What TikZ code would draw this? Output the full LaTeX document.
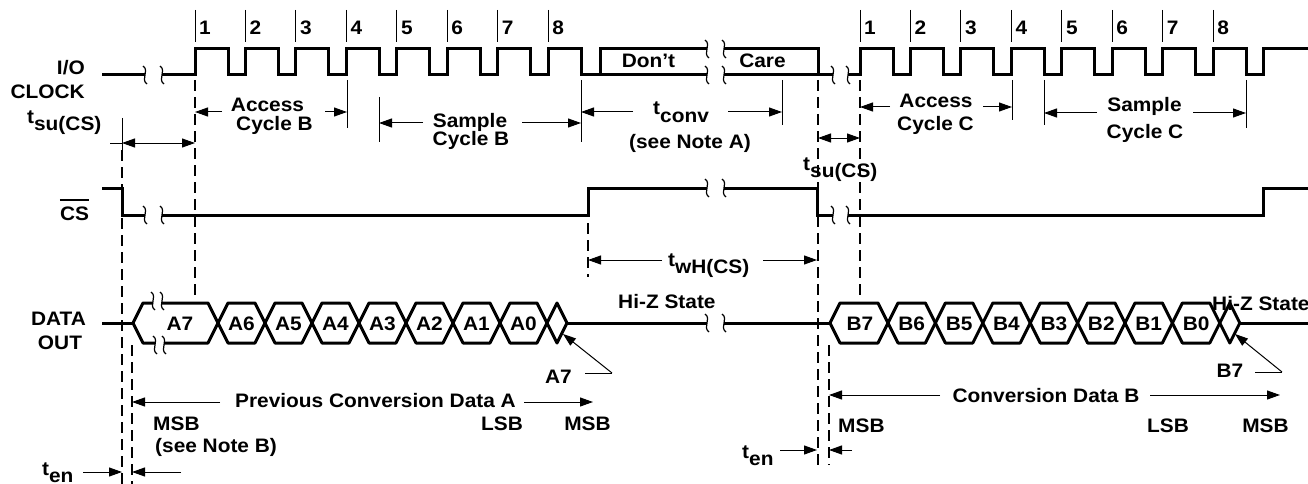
\documentclass[tikz,border=0pt]{standalone}
\usepackage{fontspec}
\setmainfont{Liberation Sans}[FakeStretch=1.07]
\usetikzlibrary{arrows.meta}
\newcommand\tsub[2]{#1\raisebox{-7pt}{#2}}
\newcommand\brkmark[2]{\draw[brkline] ({#1-2},{#2-9}) .. controls ({#1+5},{#2-4}) and ({#1-5},{#2+4}) .. ({#1+2},{#2+9});}
\tikzset{
  sig/.style={line width=3pt},
  dat/.style={line width=3pt, line join=round},
  brkline/.style={line width=1.2pt},
  dimline/.style={line width=1pt},
  dashv/.style={line width=1.1pt, dash pattern=on 11pt off 6pt},
  arr/.style={line width=1pt, -{Triangle[length=13pt,width=9pt]}},
  darr/.style={line width=1pt, {Triangle[length=13pt,width=9pt]}-{Triangle[length=13pt,width=9pt]}},
  lbl/.style={font=\fontsize{19.5}{21}\selectfont\bfseries, inner sep=0pt, anchor=base},
}
\begin{document}
\begin{tikzpicture}[x=1pt,y=-1pt]
\useasboundingbox (0,0) rectangle (1308,484);

% ---------- left labels
\node[lbl, anchor=base east] (io) at (85,75) {I/O};
\node[lbl, anchor=base east] (clk) at (85,99) {CLOCK};
\node[lbl] (cs) at (74.5,220) {CS};
\draw[line width=1.6pt] ([yshift=6pt]cs.north west) -- ([yshift=6pt]cs.north east);
\node[lbl] (data) at (58.5,325) {DATA};
\node[lbl] (out) at (60,349) {OUT};

% ---------- I/O clock
\draw[sig] (102,75) -- (145,75);
\draw[sig] (162,75) foreach \k in {0,...,7}{ -- ({195+50.45*\k},75) -- ({195+50.45*\k},49) -- ({228+50.45*\k},49) -- ({228+50.45*\k},75)} -- (600,75) -- (600,49) -- (707,49);
\draw[sig] (600,75) -- (707,75);
\draw[sig] (724,49) -- (818,49) -- (818,75);
\draw[sig] (724,75) -- (833,75);
\draw[sig] (848,75) foreach \k in {0,...,7}{ -- ({860+50.45*\k},75) -- ({860+50.45*\k},49) -- ({893+50.45*\k},49) -- ({893+50.45*\k},75)} -- (1263,75) -- (1263,49) -- (1308,49);
\brkmark{145}{75}\brkmark{162}{75}
\brkmark{707}{49}\brkmark{724}{49}
\brkmark{707}{75}\brkmark{724}{75}
\brkmark{833}{75}\brkmark{848}{75}
\node[lbl] (dont) at (648.5,68) {Don’t};
\node[lbl] (care) at (762.5,68) {Care};

\foreach \k [count=\n] in {0,...,7}{
  \draw[dimline] ({195+50.45*\k},10) -- ({195+50.45*\k},42);
  \node[lbl, anchor=base west] (nb\n) at ({199+50.45*\k},35) {\n};
  \draw[dimline] ({860+50.45*\k},10) -- ({860+50.45*\k},42);
  \node[lbl, anchor=base west] (nc\n) at ({864+50.45*\k},35) {\n};
}

% ---------- CS
\draw[sig] (102,188) -- (122,188) -- (122,215) -- (145,215);
\draw[sig] (162,215) -- (588,215) -- (588,188) -- (707,188);
\draw[sig] (724,188) -- (817,188) -- (817,215) -- (833,215);
\draw[sig] (848,215) -- (1263,215) -- (1263,188) -- (1308,188);
\brkmark{145}{215}\brkmark{162}{215}
\brkmark{707}{188}\brkmark{724}{188}
\brkmark{833}{215}\brkmark{848}{215}

% ---------- DATA OUT
\draw[dat] (102,323) -- (133,323);
\draw[dat] (153,303) -- (143,303) -- (133,323) -- (143,343) -- (155,343);
\draw[dat] (162,303) -- (208,303) -- (218,323) -- (208,343) -- (164,343);
\brkmark{153}{301}\brkmark{162}{301}
\brkmark{155}{345}\brkmark{164}{345}
\node[lbl] (a7) at (180,330) {A7};
\foreach \k/\t in {0/A6,1/A5,2/A4,3/A3,4/A2,5/A1,6/A0}{
  \draw[dat] ({218+47*\k},323) -- ({228+47*\k},303) -- ({255+47*\k},303) -- ({265+47*\k},323) -- ({255+47*\k},343) -- ({228+47*\k},343) -- cycle;
  \node[lbl] (cell\t) at ({241.5+47*\k},330) {\t};
}
\draw[dat] (547,323) -- (557,303) -- (567,323) -- (557,343) -- cycle;
\draw[dat] (567,323) -- (707,323);
\draw[dat] (724,323) -- (830,323);
\brkmark{707}{323}\brkmark{724}{323}
\draw[dat] (830,323) -- (840,303) -- (878,303) -- (888,323) -- (878,343) -- (840,343) -- cycle;
\node[lbl] (b7) at (860,330) {B7};
\foreach \k/\t in {0/B6,1/B5,2/B4,3/B3,4/B2,5/B1,6/B0}{
  \draw[dat] ({888+47.4*\k},323) -- ({898+47.4*\k},303) -- ({925.4+47.4*\k},303) -- ({935.4+47.4*\k},323) -- ({925.4+47.4*\k},343) -- ({898+47.4*\k},343) -- cycle;
  \node[lbl] (cell\t) at ({911.7+47.4*\k},330) {\t};
}
\draw[dat] (1219.8,323) -- (1229.8,303) -- (1239.8,323) -- (1229.8,343) -- cycle;
\draw[dat] (1239.8,323) -- (1308,323);
\node[lbl, anchor=base west] (hiz1) at (618,308) {Hi-Z State};
\node[lbl, anchor=base west] (hiz2) at (1212,310) {Hi-Z State};

% ---------- extension lines
\draw[dimline] (122,118) -- (122,150);
\draw[dashv] (122,150) -- (122,484);
\draw[dashv] (195,80) -- (195,295);
\draw[dimline] (347,80) -- (347,128);
\draw[dimline] (379,97) -- (379,142);
\draw[dimline] (581,80) -- (581,142);
\draw[dimline] (782,80) -- (782,125);
\draw[dashv] (818,80) -- (818,465);
\draw[dashv] (860,80) -- (860,295);
\draw[dimline] (1012,80) -- (1012,120);
\draw[dimline] (1044,80) -- (1044,125);
\draw[dimline] (1246,80) -- (1246,128);
\draw[dashv] (588,223) -- (588,277);
\draw[dashv] (132,345) -- (132,484);
\draw[dashv] (829,345) -- (829,465);

% ---------- dimension arrows
\draw[darr] (122,143) -- (195,143);
\draw[dimline] (110,143) -- (122,143);
\node[lbl, anchor=base west] (tsu1) at (27,124) {\tsub{t}{su(CS)}};

\draw[arr] (222,112) -- (195,112);
\draw[arr] (325,112) -- (347,112);
\node[lbl] (accB1) at (267.5,112) {Access};
\node[lbl] (accB2) at (274.5,131) {Cycle B};

\draw[arr] (423,123) -- (379,123);
\draw[arr] (522,123) -- (581,123);
\node[lbl] (smpB1) at (470,128) {Sample};
\node[lbl] (smpB2) at (471,146) {Cycle B};

\draw[arr] (633,112) -- (581,112);
\draw[arr] (728,112) -- (782,112);
\node[lbl, anchor=base west] (tconv) at (653,115) {\tsub{t}{conv}};
\node[lbl] (noteA) at (690,148) {(see Note A)};

\draw[darr] (818,138) -- (860,138);
\node[lbl, anchor=base west] (tsu2) at (803,170) {\tsub{t}{su(CS)}};

\draw[arr] (890,107) -- (860,107);
\draw[arr] (983,107) -- (1012,107);
\node[lbl] (accC1) at (936,107) {Access};
\node[lbl] (accC2) at (935.5,130) {Cycle C};

\draw[arr] (1097,113) -- (1044,113);
\draw[arr] (1193,113) -- (1246,113);
\node[lbl] (smpC1) at (1144.5,112) {Sample};
\node[lbl] (smpC2) at (1145,139) {Cycle C};

\draw[arr] (662,260) -- (588,260);
\draw[arr] (763,260) -- (817,260);
\node[lbl, anchor=base west] (twh) at (668,266) {\tsub{t}{wH(CS)}};

% ---------- annotations under data
\node[lbl] (a7n) at (558.5,383) {A7};
\draw[dimline] (585,373) -- (612,373);
\draw[arr] (612,373) -- (563,334);
\node[lbl] (b7n) at (1230,377) {B7};
\draw[dimline] (1255,372) -- (1282,372);
\draw[arr] (1282,372) -- (1235,334);

\draw[arr] (220,402) -- (132,402);
\draw[arr] (524,402) -- (593,402);
\node[lbl, anchor=base west] (prevA) at (235,407) {Previous Conversion Data A};
\node[lbl, anchor=base west] (msbA) at (153,430) {MSB};
\node[lbl, anchor=base west] (noteB) at (155,452) {(see Note B)};
\node[lbl] (lsbA) at (502,430) {LSB};
\node[lbl] (msbA2) at (587.5,430) {MSB};

\draw[arr] (83,472) -- (122,472);
\draw[arr] (181,472) -- (132,472);
\node[lbl, anchor=base west] (ten1) at (42,475) {\tsub{t}{en}};

\draw[arr] (780,450) -- (817,450);
\draw[arr] (852,450) -- (829,450);
\node[lbl, anchor=base west] (ten2) at (742,458) {\tsub{t}{en}};

\draw[arr] (940,395) -- (829,395);
\draw[arr] (1150,395) -- (1280,395);
\node[lbl] (convB) at (1046,402) {Conversion Data B};
\node[lbl, anchor=base west] (msbB) at (838,432) {MSB};
\node[lbl] (lsbB) at (1168,432) {LSB};
\node[lbl] (msbB2) at (1265.5,432) {MSB};
\end{tikzpicture}
\end{document}
